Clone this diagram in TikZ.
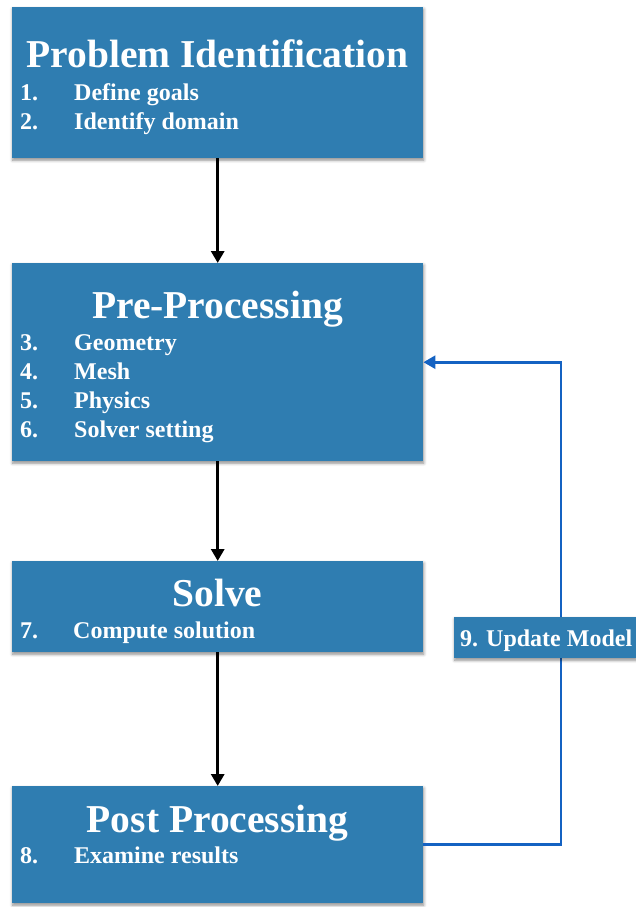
\documentclass[tikz,border=0pt]{standalone}
\usepackage{fontspec}
\setmainfont{Liberation Serif}
\usetikzlibrary{arrows.meta,shadows.blur}
\definecolor{boxblue}{HTML}{2F7DB1}
\definecolor{linkblue}{HTML}{1462C2}
\begin{document}
\begin{tikzpicture}[x=1pt,y=-1pt,
  box/.style={fill=boxblue, draw=none, anchor=north west, inner sep=0pt,
    blur shadow={shadow xshift=0.5pt, shadow yshift=-2pt, shadow blur radius=3pt, shadow opacity=45}},
  ttl/.style={text=white, anchor=base, inner sep=0pt, font=\fontsize{39.5}{42}\selectfont\bfseries},
  itm/.style={text=white, anchor=base west, inner sep=0pt, font=\fontsize{24}{26}\selectfont\bfseries},
  arr/.style={draw=black, line width=3pt, -{Triangle[width=13pt,length=12pt]}},
  fb/.style={draw=linkblue, line width=2.7pt, -{Triangle[width=13pt,length=12pt]}}
]
\useasboundingbox (0,0) rectangle (636,907);
% boxes
\node[box, minimum width=411pt, minimum height=151pt] (b1) at (12,7) {};
\node[box, minimum width=411pt, minimum height=198pt] (b2) at (12,263) {};
\node[box, minimum width=411pt, minimum height=91pt] (b3) at (12,561) {};
\node[box, minimum width=411pt, minimum height=117pt] (b4) at (12,786) {};
% box 1
\node[ttl] (t1) at (217.5,67) {Problem Identification};
\node[itm] (n1) at (20,100) {1.};
\node[itm] (i1) at (74,100) {Define goals};
\node[itm] (n2) at (20,129) {2.};
\node[itm] (i2) at (74,129) {Identify domain};
% box 2
\node[ttl] (t2) at (217.5,318) {Pre-Processing};
\node[itm] (n3) at (20,350) {3.};
\node[itm] (i3) at (74,350) {Geometry};
\node[itm] (n4) at (20,379) {4.};
\node[itm] (i4) at (74,379) {Mesh};
\node[itm] (n5) at (20,408) {5.};
\node[itm] (i5) at (74,408) {Physics};
\node[itm] (n6) at (20,437) {6.};
\node[itm] (i6) at (74,437) {Solver setting};
% box 3
\node[ttl] (t3) at (217.5,606) {Solve};
\node[itm] (n7) at (20,638) {7.};
\node[itm] (i7) at (73,638) {Compute solution};
% box 4
\node[ttl] (t4) at (217.5,832) {Post Processing};
\node[itm] (n8) at (20,863) {8.};
\node[itm] (i8) at (74,863) {Examine results};
% arrows
\draw[arr] (b1) -- (b2);
\draw[arr] (b2) -- (b3);
\draw[arr] (b3) -- (b4);
\coordinate (c1) at (561,600);
\draw[fb] (b4.east) -| (c1) |- (b2.east);
% label
\node[box, minimum width=182pt, minimum height=41pt] (lb) at (454,617) {};
\node[itm] (lt) at (460,646) {9. Update Model};
\end{tikzpicture}
\end{document}
